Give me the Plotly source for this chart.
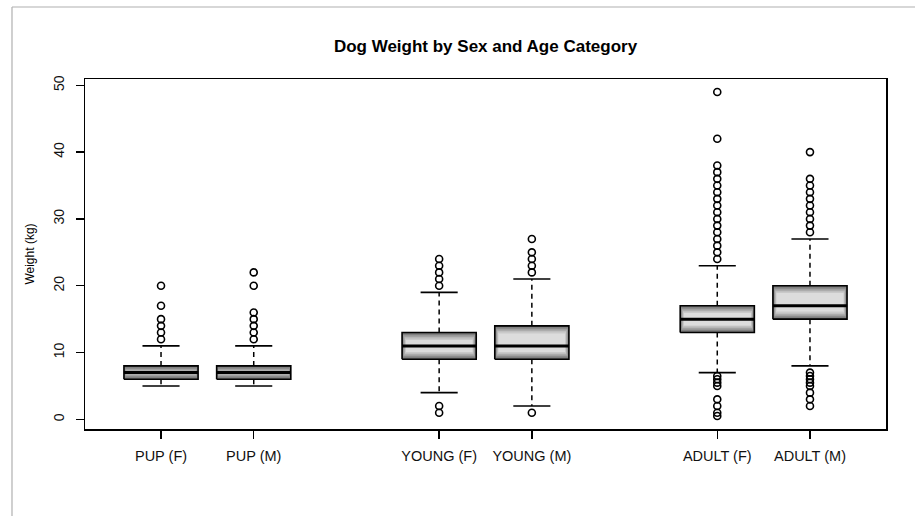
import plotly.graph_objects as go

# ---------------- data ----------------
positions = [1, 2, 4, 5, 7, 8]
labels = ["PUP (F)", "PUP (M)", "YOUNG (F)", "YOUNG (M)", "ADULT (F)", "ADULT (M)"]
q1 = [6, 6, 9, 9, 13, 15]
median = [7, 7, 11, 11, 15, 17]
q3 = [8, 8, 13, 14, 17, 20]
lower_whisker = [5, 5, 4, 2, 7, 8]
upper_whisker = [11, 11, 19, 21, 23, 27]

outliers_pup_f = [12, 13, 14, 15, 17, 20]
outliers_pup_m = [12, 13, 14, 15, 16, 20, 22]
outliers_young_f = [1, 2, 20, 21, 22, 23, 24]
outliers_young_m = [1, 22, 23, 24, 25, 27]
outliers_adult_f = [0.5, 1, 2, 3, 5, 5.5, 6, 6.5,
                    24, 25, 26, 27, 28, 29, 30, 31, 32, 33, 34, 35, 36, 37, 38,
                    42, 49]
outliers_adult_m = [2, 3, 4, 5, 5.5, 6, 6.5, 7,
                    28, 29, 30, 31, 32, 33, 34, 35, 36, 40]
outliers = [outliers_pup_f, outliers_pup_m, outliers_young_f,
            outliers_young_m, outliers_adult_f, outliers_adult_m]

y_ticks = [0, 10, 20, 30, 40, 50]

# ---------------- geometry / style ----------------
W, H = 915, 516
ML, MR, MT, MB = 85, 29, 79, 87
XR = [0.18, 8.82]
YR = [-1.44, 50.94]
plot_w = W - ML - MR
plot_h = H - MT - MB
px_x = (XR[1] - XR[0]) / plot_w   # data units per pixel (x)
px_y = (YR[1] - YR[0]) / plot_h   # data units per pixel (y)

BOXW = 0.8
FONT = "Liberation Sans, Arial, Helvetica, sans-serif"

fig = go.Figure()

# gradient fill made of nested bars
K = 12
dark, light = 100, 220
for k in range(K):
    g = int(round(dark + (light - dark) * (k / (K - 1)) ** 0.85))
    col = f"rgb({g},{g},{g})"
    bases, heights, widths = [], [], []
    for a, b in zip(q1, q3):
        h = b - a
        dy = min(k * 0.7 * px_y, h / 2 - 0.6 * px_y)
        bases.append(a + dy)
        heights.append(h - 2 * dy)
        widths.append(BOXW - 2 * k * 0.35 * px_x)
    fig.add_trace(go.Bar(x=positions, y=heights, base=bases, width=widths,
                         marker=dict(color=col, line=dict(width=0)),
                         hoverinfo="skip", showlegend=False))

# box outlines
bx, by = [], []
for p, a, b in zip(positions, q1, q3):
    l, r = p - BOXW / 2, p + BOXW / 2
    bx += [l, r, r, l, l, None]
    by += [a, a, b, b, a, None]
fig.add_trace(go.Scatter(x=bx, y=by, mode="lines",
                         line=dict(color="black", width=1.6),
                         hoverinfo="skip", showlegend=False))

# whiskers (dashed)
wx, wy = [], []
for p, a, b, lo, hi in zip(positions, q1, q3, lower_whisker, upper_whisker):
    wx += [p, p, None, p, p, None]
    wy += [b, hi, None, a, lo, None]
fig.add_trace(go.Scatter(x=wx, y=wy, mode="lines",
                         line=dict(color="black", width=1.5, dash="5px,4px"),
                         hoverinfo="skip", showlegend=False))

# staples
sx, sy = [], []
for p, lo, hi in zip(positions, lower_whisker, upper_whisker):
    sx += [p - BOXW / 4, p + BOXW / 4, None, p - BOXW / 4, p + BOXW / 4, None]
    sy += [lo, lo, None, hi, hi, None]
fig.add_trace(go.Scatter(x=sx, y=sy, mode="lines",
                         line=dict(color="black", width=1.6),
                         hoverinfo="skip", showlegend=False))

# medians
mx, my = [], []
for p, m in zip(positions, median):
    mx += [p - BOXW / 2, p + BOXW / 2, None]
    my += [m, m, None]
fig.add_trace(go.Scatter(x=mx, y=my, mode="lines",
                         line=dict(color="black", width=3),
                         hoverinfo="skip", showlegend=False))

# outliers
ox, oy = [], []
for p, vals in zip(positions, outliers):
    ox += [p] * len(vals)
    oy += vals
fig.add_trace(go.Scatter(x=ox, y=oy, mode="markers",
                         marker=dict(symbol="circle-open", size=7, color="black",
                                     line=dict(width=1.6)),
                         hoverinfo="skip", showlegend=False))

# faint border lines of the original picture (top and left)
x_left = (12 - ML) / plot_w
x_right = (W - ML) / plot_w
y_top = (H - MB - 7) / plot_h
y_bot = (H - MB - H) / plot_h
fig.add_shape(type="line", xref="paper", yref="paper", x0=x_left, x1=x_right,
              y0=y_top, y1=y_top, line=dict(color="#b0b0b0", width=1.2))
fig.add_shape(type="line", xref="paper", yref="paper", x0=x_left, x1=x_left,
              y0=y_top, y1=y_bot, line=dict(color="#b0b0b0", width=1.2))

fig.update_layout(
    width=W, height=H, autosize=False,
    margin=dict(l=ML, r=MR, t=MT, b=MB),
    paper_bgcolor="white", plot_bgcolor="white",
    barmode="overlay", bargap=0,
    hovermode=False,
    font=dict(family=FONT, color="black"),
    title=dict(text="Dog Weight by Sex and Age Category",
               x=(ML + plot_w / 2) / W, xanchor="center",
               y=1 - 46 / H, yanchor="middle", yref="container",
               font=dict(size=17, weight="bold", color="black", family=FONT)),
    xaxis=dict(range=XR, tickmode="array", tickvals=positions, ticktext=labels,
               showgrid=False, zeroline=False, showline=True, mirror=True,
               linecolor="black", linewidth=1.5, ticks="outside", ticklen=8,
               tickwidth=1.5, tickcolor="black", ticklabelstandoff=5,
               tickfont=dict(size=14.5, color="#111111", family=FONT)),
    yaxis=dict(range=YR, tickmode="array", tickvals=y_ticks,
               showgrid=False, zeroline=False, showline=True, mirror=True,
               linecolor="black", linewidth=1.5, ticks="outside", ticklen=8,
               tickwidth=1.5, tickcolor="black", tickangle=-90,
               ticklabelstandoff=6,
               tickfont=dict(size=14, color="#111111", family=FONT),
               title=dict(text="Weight (kg)", standoff=13,
                          font=dict(size=12, color="black", family=FONT))),
)

fig.write_html("out.html",
               config={"displayModeBar": False, "staticPlot": True},
               post_script="document.body.style.margin='0';"
                           "document.body.style.overflow='hidden';")
